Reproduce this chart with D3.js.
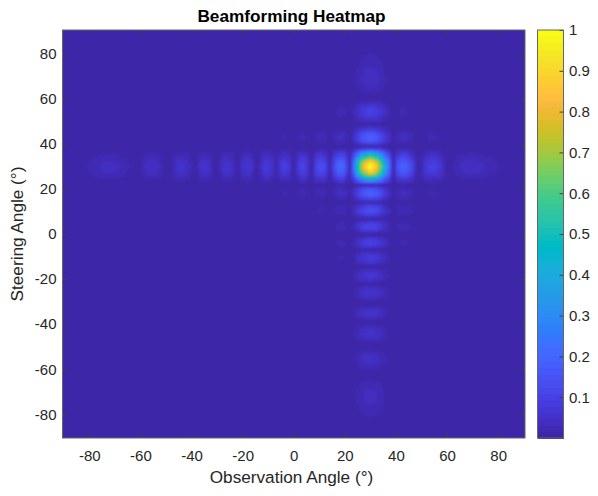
<!DOCTYPE html>
<html><head><meta charset="utf-8">
<script src="https://cdnjs.cloudflare.com/ajax/libs/d3/7.8.5/d3.min.js"></script>
<style>
html,body{margin:0;padding:0;background:#fff}
svg{display:block}
text{font-family:"Liberation Sans",Arial,sans-serif;fill:#262626}
</style></head><body>
<svg id="c" width="598" height="496"></svg>
<script>
const title = "Beamforming Heatmap";
const xLabel = "Observation Angle (°)";
const yLabel = "Steering Angle (°)";
const angleTicks = [-80,-60,-40,-20,0,20,40,60,80];
const angleTickLabels = ["-80","-60","-40","-20","0","20","40","60","80"];
const barTicks = [0.1,0.2,0.3,0.4,0.5,0.6,0.7,0.8,0.9,1];
const barTickLabels = ["0.1","0.2","0.3","0.4","0.5","0.6","0.7","0.8","0.9","1"];

// Brightness along the row at steering = 30°, one value per degree from -90 to 90
const observationAngles = d3.range(-90, 91);
const observationProfile = [
.004,.004,.005,.006,.007,.008,.009,.011,.014,.016,.019,.022,.026,.029,.031,.034,.036,.037,.038,.037,.036,.033,.030,.027,.024,.017,.013,.009,.003,
.005,.015,.024,.033,.041,.046,.046,.041,.035,.026,.016,.008,.002,
.010,.026,.040,.049,.052,.050,.043,.033,.019,.004,
.016,.035,.049,.055,.053,.044,.030,.012,.001,
.018,.041,.054,.059,.053,.041,.019,.001,
.022,.048,.062,.065,.056,.039,.016,
.004,.034,.063,.077,.077,.065,.040,.004,
.040,.075,.090,.086,.068,.036,.002,
.045,.085,.105,.103,.080,.046,.004,
.055,.105,.130,.135,.114,.073,.023,
.050,.125,.178,.205,.200,.165,.095,.008,
.170,.320,.480,.640,.770,.880,.960,1,.960,.890,.790,.660,.520,.390,.260,.120,.025,
.095,.150,.180,.190,.180,.155,.118,.072,.025,.008,
.030,.055,.077,.090,.096,.095,.086,.071,.050,.030,.013,.002,
.011,.018,.026,.032,.037,.040,.042,.043,.042,.040,.038,.036,.033,.030,.027,.024,.021,.019,.016,.014,.013,.011,.010,.008,.007,.006,.005,.005,.004
];

// Brightness along the column at observation = 30°, one value per degree from -90 to 90
const steeringAngles = d3.range(-90, 91);
const steeringProfile = [
.004,.004,.005,.006,.007,.008,.009,.011,.014,.016,.019,.022,.026,.029,.031,.034,.036,.037,.038,.037,.036,.033,.030,.027,.024,.017,.013,.009,.003,
.005,.015,.025,.034,.042,.047,.047,.042,.036,.027,.016,.008,.002,
.010,.027,.041,.050,.054,.051,.044,.034,.019,.004,
.017,.037,.051,.057,.055,.046,.031,.013,.001,
.019,.043,.057,.062,.056,.043,.020,.001,
.023,.051,.066,.069,.059,.041,.017,
.004,.036,.066,.081,.081,.068,.042,.004,
.042,.079,.095,.090,.071,.038,.002,
.047,.089,.110,.108,.084,.048,.004,
.058,.110,.136,.141,.119,.077,.024,
.045,.120,.170,.195,.190,.155,.090,.008,
.170,.320,.480,.640,.770,.880,.960,1,.960,.890,.790,.660,.520,.390,.260,.120,.025,
.090,.145,.175,.185,.175,.150,.113,.070,.025,.008,
.030,.055,.077,.090,.096,.095,.086,.071,.050,.030,.013,.002,
.011,.018,.026,.032,.037,.040,.042,.043,.042,.040,.038,.036,.033,.030,.027,.024,.021,.019,.016,.014,.013,.011,.010,.008,.007,.006,.005,.005,.004
];

const parula = [[.2422,.1504,.6603],[.2504,.1650,.7076],[.2578,.1818,.7511],[.2647,.1978,.7952],[.2706,.2147,.8364],[.2751,.2342,.8710],[.2783,.2559,.8991],[.2803,.2782,.9221],[.2813,.3006,.9414],[.2810,.3228,.9579],[.2795,.3447,.9717],[.2760,.3667,.9829],[.2699,.3892,.9906],[.2602,.4123,.9952],[.2440,.4358,.9988],[.2206,.4603,.9973],[.1963,.4847,.9892],[.1834,.5074,.9798],[.1786,.5289,.9682],[.1764,.5499,.9520],[.1687,.5703,.9359],[.1540,.5902,.9218],[.1460,.6091,.9079],[.1380,.6276,.8973],[.1248,.6459,.8883],[.1113,.6635,.8763],[.0952,.6798,.8598],[.0689,.6948,.8394],[.0297,.7082,.8163],[.0036,.7203,.7917],[.0067,.7312,.7660],[.0433,.7411,.7394],[.0964,.7500,.7120],[.1408,.7584,.6842],[.1717,.7670,.6554],[.1938,.7758,.6251],[.2161,.7843,.5923],[.2470,.7918,.5567],[.2906,.7973,.5188],[.3406,.8008,.4789],[.3909,.8029,.4354],[.4456,.8024,.3909],[.5044,.7993,.3480],[.5616,.7942,.3045],[.6174,.7876,.2612],[.6720,.7793,.2227],[.7242,.7698,.1910],[.7738,.7598,.1646],[.8203,.7498,.1535],[.8634,.7406,.1596],[.9035,.7330,.1774],[.9393,.7288,.2100],[.9728,.7298,.2394],[.9956,.7434,.2371],[.9970,.7659,.2199],[.9952,.7893,.2028],[.9892,.8136,.1885],[.9786,.8386,.1766],[.9676,.8639,.1643],[.9610,.8890,.1537],[.9597,.9135,.1423],[.9628,.9373,.1265],[.9691,.9606,.1064],[.9769,.9839,.0805]]
  .map(c => d3.rgb(c[0]*255, c[1]*255, c[2]*255).formatHex());

const svg = d3.select("#c");
const L = 62.5, R = 525, T = 30, B = 438;
const x = d3.scaleLinear().domain([-90.5, 90.5]).range([L, R]);
const y = d3.scaleLinear().domain([-90.5, 90.5]).range([B, T]);
const color = d3.scaleQuantize().domain([0, 1]).range(parula);

const cells = [];
steeringAngles.forEach((s, j) => observationAngles.forEach((o, i) => {
  cells.push({o, s, v: observationProfile[i] * steeringProfile[j]});
}));
const heat = svg.append("g").attr("class","heat").attr("shape-rendering","crispEdges")
  .style("filter","blur(0.8px)");
heat.append("rect").attr("x",L-8).attr("y",T-8).attr("width",R-L+16).attr("height",B-T+16)
  .attr("fill",parula[0]);
heat.selectAll("rect.cell").data(cells).join("rect").attr("class","cell")
  .attr("x", d => x(d.o - .5)).attr("y", d => y(d.s + .5))
  .attr("width", d => x(d.o + .5) - x(d.o - .5) + .5)
  .attr("height", d => y(d.s - .5) - y(d.s + .5) + .5)
  .attr("fill", d => color(d.v));
// cover blur bleed outside the plot
const bleed = svg.append("g").attr("fill","#fff");
bleed.append("rect").attr("x",L-12).attr("y",T-12).attr("width",12).attr("height",B-T+24);
bleed.append("rect").attr("x",R).attr("y",T-12).attr("width",12).attr("height",B-T+24);
bleed.append("rect").attr("x",L-12).attr("y",T-12).attr("width",R-L+24).attr("height",12);
bleed.append("rect").attr("x",L-12).attr("y",B).attr("width",R-L+24).attr("height",12);

function style(g, fs){
  g.select(".domain").remove();
  g.selectAll(".tick line").attr("stroke","#404040").attr("stroke-width",1);
  g.selectAll(".tick text").style("font-size",fs+"px").attr("fill","#262626");
}
const TS = 5;
svg.append("g").attr("transform",`translate(0,${B})`)
  .call(d3.axisBottom(x).tickValues(angleTicks).tickSize(-TS).tickPadding(12).tickFormat((d,i)=>angleTickLabels[i]))
  .call(g=>style(g,15));
svg.append("g").attr("transform",`translate(${L},0)`)
  .call(d3.axisLeft(y).tickValues(angleTicks).tickSize(-TS).tickPadding(6).tickFormat((d,i)=>angleTickLabels[i]))
  .call(g=>style(g,15));
svg.append("g").attr("transform",`translate(0,${T})`)
  .call(d3.axisTop(x).tickValues(angleTicks).tickSize(-TS).tickFormat(""))
  .call(g=>style(g,15));
svg.append("g").attr("transform",`translate(${R},0)`)
  .call(d3.axisRight(y).tickValues(angleTicks).tickSize(-TS).tickFormat(""))
  .call(g=>style(g,15));
svg.append("rect").attr("x",L).attr("y",T).attr("width",R-L).attr("height",B-T)
  .attr("fill","none").attr("stroke","#666").attr("stroke-width",1);

svg.append("text").attr("x",291.5).attr("y",22).attr("text-anchor","middle")
  .style("font-size","17.2px").style("font-weight","bold").style("fill","#000").text(title);
svg.append("text").attr("x",291.5).attr("y",483).attr("text-anchor","middle")
  .style("font-size","17.2px").text(xLabel);
svg.append("text").attr("transform","translate(23,234) rotate(-90)").attr("text-anchor","middle")
  .style("font-size","17.2px").text(yLabel);

// colour bar
const bL = 537.5, bR = 563.5;
const by = d3.scaleLinear().domain([0,1]).range([B,T]);
svg.append("g").attr("shape-rendering","crispEdges").selectAll("rect").data(parula).join("rect")
  .attr("x",bL).attr("width",bR-bL)
  .attr("y",(d,i)=>by((i+1)/parula.length))
  .attr("height",(d,i)=>by(i/parula.length)-by((i+1)/parula.length)+.5)
  .attr("fill",d=>d);
svg.append("g").attr("transform",`translate(${bR},0)`)
  .call(d3.axisRight(by).tickValues(barTicks).tickSize(-4).tickPadding(5.5).tickFormat((d,i)=>barTickLabels[i]))
  .call(g=>style(g,15));
svg.append("rect").attr("x",bL).attr("y",T).attr("width",bR-bL).attr("height",B-T)
  .attr("fill","none").attr("stroke","#666").attr("stroke-width",1);
</script></body></html>
